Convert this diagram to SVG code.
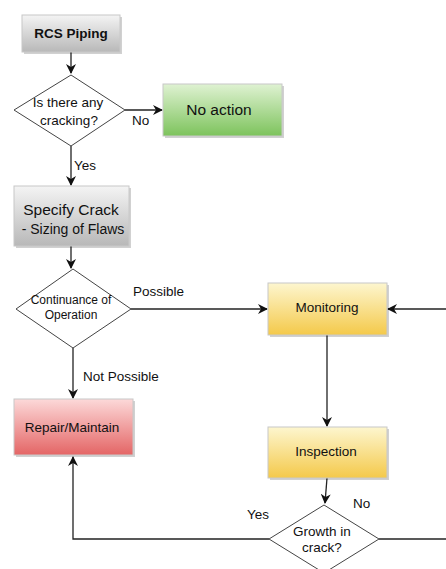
<svg xmlns="http://www.w3.org/2000/svg" width="446" height="569" viewBox="0 0 446 569">
<defs>
<linearGradient id="gGray" x1="0" y1="0" x2="0" y2="1"><stop offset="0" stop-color="#f4f4f4"/><stop offset="1" stop-color="#b8b8b8"/></linearGradient>
<linearGradient id="gGreen" x1="0" y1="0" x2="0" y2="1"><stop offset="0" stop-color="#dff2d2"/><stop offset="1" stop-color="#7dc35c"/></linearGradient>
<linearGradient id="gYellow" x1="0" y1="0" x2="0" y2="1"><stop offset="0" stop-color="#fdf6cf"/><stop offset="1" stop-color="#f4c94a"/></linearGradient>
<linearGradient id="gRed" x1="0" y1="0" x2="0" y2="1"><stop offset="0" stop-color="#fcd9d9"/><stop offset="1" stop-color="#e46565"/></linearGradient>
<marker id="arr" viewBox="0 0 10 10" refX="9" refY="5" markerWidth="10" markerHeight="10" markerUnits="userSpaceOnUse" orient="auto"><path d="M0,0 L10,5 L0,10 L3,5 Z" fill="#111"/></marker>
</defs>
<style>
.box{stroke:#c8c8c8;stroke-width:1}
.sh{fill:#000;opacity:0.18}
.dia{fill:#fff;stroke:#444;stroke-width:1}
.t{font-family:"Liberation Sans",Arial,sans-serif;fill:#111;text-anchor:middle}
.lbl{font-family:"Liberation Sans",Arial,sans-serif;fill:#111;font-size:13.5px}
.c{fill:none;stroke:#222;stroke-width:1.3}
</style>
<rect width="446" height="569" fill="#fff"/>
<g id="connectors">
<path class="c" d="M71,52 V73" marker-end="url(#arr)"/>
<path class="c" d="M125,110 H162" marker-end="url(#arr)"/>
<path class="c" d="M71,146 V185" marker-end="url(#arr)"/>
<path class="c" d="M71,246 V268" marker-end="url(#arr)"/>
<path class="c" d="M131,309 H267" marker-end="url(#arr)"/>
<path class="c" d="M73,348 V398" marker-end="url(#arr)"/>
<path class="c" d="M446,309 H388" marker-end="url(#arr)"/>
<path class="c" d="M327,335 V426" marker-end="url(#arr)"/>
<path class="c" d="M327,478 L325,503" marker-end="url(#arr)"/>
<path class="c" d="M269,539 H73 V457" marker-end="url(#arr)"/>
<path class="c" d="M379,539 H446"/>
<text class="lbl" x="132" y="125">No</text>
<text class="lbl" x="74" y="170">Yes</text>
<text class="lbl" x="133" y="296">Possible</text>
<text class="lbl" x="83" y="381">Not Possible</text>
<text class="lbl" x="353" y="508">No</text>
<text class="lbl" x="247" y="519">Yes</text>
</g>
<g id="rcs">
<rect class="sh" x="24" y="17" width="98" height="37"/>
<rect class="box" x="22" y="15" width="98" height="37" fill="url(#gGray)"/>
<text class="t" x="71" y="38" font-size="13.5" font-weight="bold">RCS Piping</text>
</g>
<g id="d1">
<polygon class="dia" points="71,75 125,110 71,146 14,110"/>
<text class="t" x="68" y="107" font-size="13.5">Is there any</text>
<text class="t" x="69" y="125" font-size="13.5">cracking?</text>
</g>
<g id="noaction">
<rect class="sh" x="165" y="86" width="119" height="52"/>
<rect class="box" x="163" y="84" width="119" height="52" fill="url(#gGreen)"/>
<text class="t" x="219" y="115" font-size="15.5">No action</text>
</g>
<g id="specify">
<rect class="sh" x="16" y="188" width="115" height="60"/>
<rect class="box" x="14" y="186" width="115" height="60" fill="url(#gGray)"/>
<text class="t" x="71" y="215" font-size="15.5">Specify Crack</text>
<text class="t" x="73" y="234" font-size="14">- Sizing of Flaws</text>
</g>
<g id="d2">
<polygon class="dia" points="73,269 131,309 73,348 16,309"/>
<text class="t" x="71" y="304" font-size="12">Continuance of</text>
<text class="t" x="71" y="319" font-size="12">Operation</text>
</g>
<g id="monitoring">
<rect class="sh" x="270" y="285" width="119" height="52"/>
<rect class="box" x="268" y="283" width="119" height="52" fill="url(#gYellow)"/>
<text class="t" x="327" y="312" font-size="13.5">Monitoring</text>
</g>
<g id="repair">
<rect class="sh" x="16" y="401" width="119" height="56"/>
<rect class="box" x="14" y="399" width="119" height="56" fill="url(#gRed)"/>
<text class="t" x="72" y="432" font-size="13.5">Repair/Maintain</text>
</g>
<g id="inspection">
<rect class="sh" x="270" y="429" width="119" height="51"/>
<rect class="box" x="268" y="427" width="119" height="51" fill="url(#gYellow)"/>
<text class="t" x="326" y="456" font-size="13.5">Inspection</text>
</g>
<g id="d3">
<polygon class="dia" points="324,505 379,539 324,573 269,539"/>
<text class="t" x="322" y="536" font-size="13.5">Growth in</text>
<text class="t" x="322" y="552" font-size="13.5">crack?</text>
</g>
</svg>
